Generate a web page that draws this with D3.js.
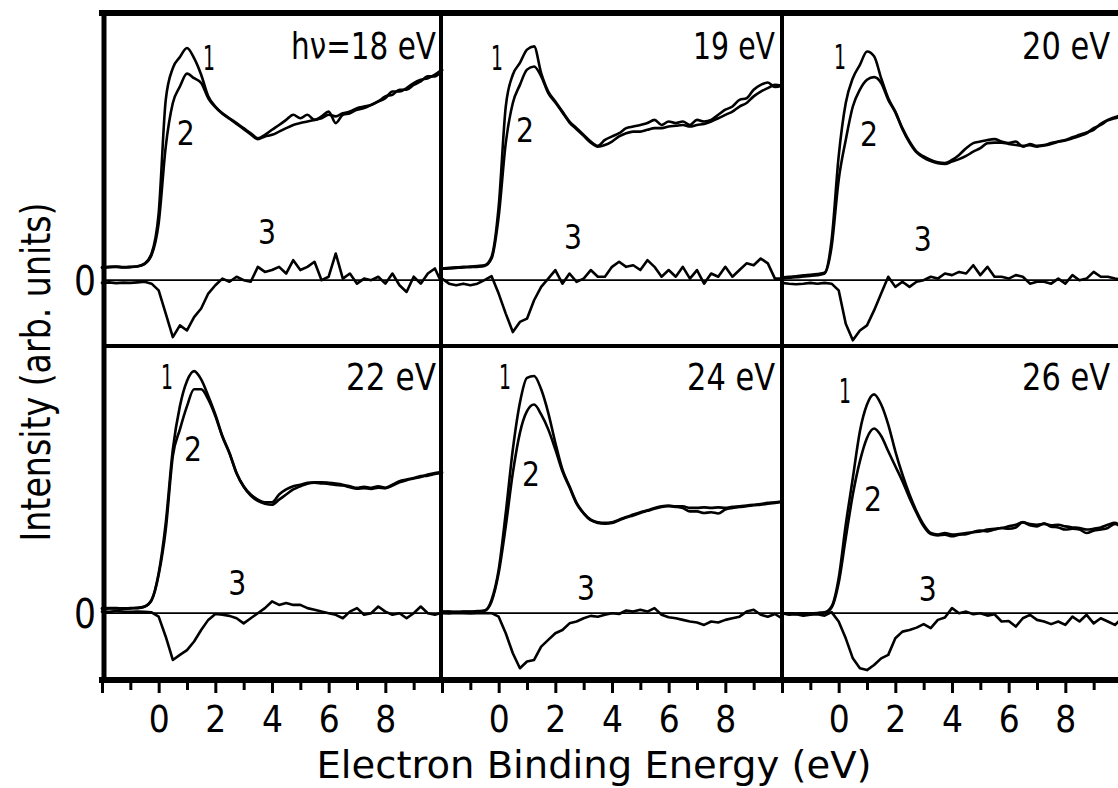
<!DOCTYPE html>
<html>
<head>
<meta charset="utf-8">
<script src="https://cdn.jsdelivr.net/npm/d3@7"></script>
<style>
  html, body { margin: 0; padding: 0; background: #fff; overflow: hidden; }
  svg { display: block; }
  text { font-family: "DejaVu Sans", "Liberation Sans", sans-serif; fill: #000; }
</style>
</head>
<body>
<svg id="chart" width="1118" height="788"></svg>
<script>
const energy = d3.range(-2, 10.001, 0.25);

const photonEnergy = [18, 19, 20, 22, 24, 26];
const panelLabels = ["h\u03bd=18 eV", "19 eV", "20 eV", "22 eV", "24 eV", "26 eV"];
const xTicks = [-2, -1, 0, 1, 2, 3, 4, 5, 6, 7, 8, 9, 10];
const xTickLabels = [0, 2, 4, 6, 8];

// spectra 1 and 2, difference 3 (arb. units, 0 = baseline)
const edc1_18 = [4.8, 5.0, 5.1, 4.9, 5.0, 5.2, 6.2, 10.0, 25.0, 67.5, 79.4, 83.5, 86.9, 83.1, 76.9, 68.8, 65.0, 62.5, 60.6, 58.8, 56.9, 55.0, 53.1, 54.4, 56.3, 58.1, 60.0, 61.9, 60.6, 61.9, 60.0, 61.3, 63.1, 58.8, 61.9, 62.5, 63.8, 64.4, 65.6, 66.9, 68.1, 70.6, 70.6, 71.9, 73.8, 75.0, 75.6, 76.9, 78.8];
const edc2_18 = [4.6, 4.9, 5.0, 4.8, 4.9, 5.1, 6.0, 9.4, 21.3, 50.0, 66.3, 72.5, 77.3, 75.6, 73.8, 68.1, 64.8, 62.3, 60.4, 58.5, 56.5, 54.6, 52.8, 53.8, 54.4, 55.6, 56.9, 58.1, 58.8, 59.4, 60.0, 60.6, 61.9, 61.3, 62.5, 63.1, 64.4, 65.0, 65.6, 66.9, 68.8, 69.4, 71.3, 71.3, 73.1, 74.4, 76.3, 76.3, 78.5];
const diff_18 = [-1.0, -0.8, -1.1, -0.9, -1.0, -0.8, -0.6, -1.3, -3.8, -12.5, -21.3, -16.9, -18.8, -13.8, -10.6, -5.0, -1.9, 0.6, -0.6, 1.3, 0.0, -0.6, 5.0, 3.1, 3.8, 5.0, 2.5, 7.5, 3.8, 5.0, 6.9, 0.0, 1.3, 10.0, 0.6, 2.5, -1.3, 0.6, 0.0, 1.3, -1.3, 2.5, -1.9, -4.4, 1.3, -1.3, 2.5, 4.4, -1.3];

const edc1_19 = [4.4, 4.6, 4.8, 5.0, 5.1, 5.3, 5.6, 8.8, 27.5, 65.0, 76.9, 81.3, 86.3, 87.5, 77.5, 70.6, 66.9, 63.1, 59.4, 56.9, 54.4, 51.9, 50.3, 52.5, 53.8, 55.0, 56.9, 57.5, 58.1, 58.8, 60.0, 58.1, 59.4, 58.8, 59.4, 58.1, 60.0, 59.4, 60.0, 61.9, 63.8, 65.0, 67.5, 68.1, 71.3, 73.1, 74.0, 72.3, 72.8];
const edc2_19 = [4.3, 4.4, 4.6, 4.8, 4.9, 5.0, 5.3, 8.1, 23.8, 51.3, 66.3, 73.1, 78.8, 80.0, 76.3, 70.0, 66.5, 62.8, 59.0, 56.5, 54.0, 51.5, 50.0, 50.6, 51.9, 53.8, 55.0, 55.6, 55.6, 56.3, 56.9, 56.9, 57.5, 57.8, 58.1, 57.5, 58.1, 58.5, 59.4, 60.6, 61.9, 63.1, 65.0, 66.3, 68.8, 70.6, 71.9, 73.1, 72.8];
const diff_19 = [0.6, -1.3, -1.9, -1.3, -1.9, -1.3, 0.0, 1.5, -5.0, -12.5, -19.4, -15.6, -14.4, -7.5, -2.5, 0.6, 3.8, -1.3, 2.5, -0.6, 0.6, 3.8, 1.3, 1.3, 5.0, 6.9, 5.0, 5.6, 3.8, 7.5, 5.0, 1.3, 3.8, 1.3, 5.0, 0.6, 3.8, -1.3, 2.5, 1.3, 5.0, 1.3, 3.8, 6.3, 5.6, 8.1, 6.3, 0.6, 0.6];

const edc1_20 = [1.0, 1.3, 1.5, 1.8, 2.0, 2.3, 2.8, 15.0, 46.3, 66.3, 75.6, 80.6, 85.6, 83.8, 75.6, 68.1, 63.1, 56.9, 51.9, 48.1, 46.3, 45.0, 44.1, 43.8, 45.0, 46.9, 49.4, 51.3, 51.9, 52.5, 52.8, 51.9, 51.3, 51.9, 50.0, 51.0, 50.3, 50.6, 51.3, 51.9, 52.5, 53.5, 54.4, 55.3, 56.3, 58.5, 60.0, 61.0, 61.9];
const edc2_20 = [0.6, 0.9, 1.1, 1.4, 1.6, 1.9, 2.5, 12.5, 37.5, 52.5, 65.0, 71.3, 75.0, 76.0, 73.8, 67.5, 62.8, 56.5, 51.5, 47.8, 45.9, 44.6, 43.8, 43.5, 44.4, 45.3, 46.5, 48.1, 49.4, 51.3, 51.5, 51.5, 51.0, 50.6, 50.3, 50.5, 50.0, 50.4, 51.0, 51.8, 52.3, 53.1, 54.0, 55.0, 56.9, 58.1, 59.8, 60.6, 61.5];
const diff_20 = [-1.0, -1.3, -1.5, -1.3, -1.0, -1.3, -1.0, -1.3, -3.8, -16.3, -22.5, -18.8, -16.9, -11.3, -5.0, 1.3, -2.5, -0.6, -2.5, -0.6, 0.0, 1.3, 0.6, 2.5, 1.9, 3.1, 2.5, 5.6, 1.9, 5.0, 1.3, 1.3, 0.6, 1.9, 1.3, -1.3, -0.6, -0.6, -1.3, 0.6, -1.3, 1.9, 0.0, 0.6, 3.1, 1.3, 1.3, 0.6, 0.3];

const edc1_22 = [1.8, 1.9, 1.9, 1.8, 1.9, 2.0, 2.5, 5.0, 15.0, 33.8, 61.3, 77.5, 86.9, 90.6, 87.5, 81.3, 74.4, 66.3, 60.0, 52.5, 47.5, 44.4, 42.5, 41.5, 41.5, 44.4, 46.3, 47.5, 48.1, 48.8, 49.0, 49.0, 48.8, 48.5, 48.1, 47.5, 46.9, 47.3, 46.9, 47.5, 46.9, 48.1, 49.4, 50.0, 50.6, 51.3, 51.5, 52.1, 52.5];
const edc2_22 = [1.6, 1.8, 1.8, 1.6, 1.8, 1.9, 2.4, 4.8, 14.4, 31.3, 58.8, 68.8, 77.5, 83.8, 83.8, 80.0, 73.8, 66.0, 59.8, 52.3, 47.3, 44.0, 42.0, 41.0, 40.6, 42.5, 44.4, 46.3, 47.5, 48.5, 48.8, 48.6, 48.4, 48.0, 47.8, 47.1, 46.6, 46.8, 46.5, 47.0, 46.8, 47.8, 49.0, 49.8, 50.4, 51.0, 51.9, 52.5, 52.8];
const diff_22 = [0.6, 0.5, 0.8, 0.6, 0.5, 0.6, 0.5, 0.3, -1.3, -8.8, -17.5, -15.6, -13.8, -10.6, -6.3, -2.5, -0.3, -0.6, -1.0, -1.9, -3.8, -1.9, 0.0, 1.9, 4.4, 3.1, 3.8, 3.1, 3.1, 1.9, 1.3, 0.6, 0.0, -0.6, -1.9, 0.6, 1.9, -0.6, 0.0, 2.5, 0.6, -0.6, 0.0, -1.9, 0.0, 2.5, 0.0, -0.6, 0.3];

const edc1_24 = [0.6, 0.6, 0.5, 0.6, 0.6, 0.8, 1.0, 5.0, 16.3, 37.5, 61.3, 78.8, 88.1, 88.8, 83.8, 75.0, 63.8, 53.8, 47.5, 41.3, 37.5, 35.0, 34.0, 33.8, 34.0, 35.0, 36.0, 36.9, 37.8, 38.5, 39.4, 40.0, 40.3, 40.0, 40.0, 39.4, 39.4, 39.6, 39.4, 39.6, 39.4, 39.8, 40.0, 40.3, 40.6, 40.9, 41.3, 41.5, 41.9];
const edc2_24 = [0.5, 0.5, 0.4, 0.5, 0.5, 0.6, 0.9, 4.4, 15.0, 32.5, 52.5, 67.5, 75.6, 78.1, 74.4, 68.8, 61.3, 53.1, 47.1, 41.0, 37.3, 34.8, 33.8, 33.5, 33.8, 34.8, 35.8, 36.6, 37.5, 38.3, 39.1, 39.8, 40.0, 39.8, 39.4, 38.1, 38.1, 37.5, 37.8, 37.3, 38.8, 39.4, 39.8, 40.0, 40.4, 40.6, 41.0, 41.3, 41.6];
const diff_24 = [0.0, -0.1, 0.1, 0.0, -0.1, 0.0, 0.1, 0.0, -1.3, -7.5, -15.0, -20.6, -18.1, -17.5, -12.5, -10.0, -7.5, -6.3, -3.8, -3.1, -1.9, -1.0, -1.3, -0.6, 0.0, -0.3, 1.0, 0.6, 1.3, 0.6, 1.9, -0.6, -1.5, -1.9, -2.5, -3.1, -3.5, -4.4, -3.1, -3.5, -2.5, -1.9, -1.3, 0.6, 1.3, -0.6, -1.3, -0.3, -1.9];

const edc1_26 = [0.0, 0.0, -0.1, 0.0, 0.0, 0.1, 0.3, 2.5, 13.1, 33.1, 50.6, 68.1, 78.1, 81.9, 78.1, 70.6, 60.6, 51.9, 44.4, 38.1, 33.1, 30.0, 29.4, 30.0, 29.4, 29.6, 30.0, 30.3, 30.6, 31.3, 31.6, 31.9, 32.5, 33.1, 34.0, 33.4, 33.1, 33.4, 32.9, 33.1, 32.5, 32.1, 31.9, 31.3, 31.6, 32.1, 33.1, 33.8, 32.5];
const edc2_26 = [-0.1, -0.1, -0.3, -0.1, -0.1, 0.0, 0.1, 2.1, 11.3, 28.1, 44.4, 56.9, 65.6, 69.1, 66.3, 60.6, 55.0, 49.4, 43.1, 37.5, 32.5, 29.6, 29.1, 29.4, 28.8, 29.4, 29.6, 30.4, 30.9, 30.6, 31.3, 31.9, 31.6, 32.1, 34.1, 32.9, 32.5, 33.6, 32.4, 32.1, 31.3, 31.6, 31.3, 30.0, 30.9, 31.3, 31.9, 33.4, 31.9];
const diff_26 = [0.0, -0.6, -0.4, -0.9, -0.6, -0.4, -0.9, 0.4, -3.1, -9.4, -16.9, -20.6, -21.3, -19.4, -16.9, -15.6, -9.4, -6.9, -6.3, -5.4, -4.1, -5.6, -2.5, -1.6, 1.9, 0.0, 0.6, -0.4, 0.0, -0.9, -0.4, -3.1, -2.9, -5.0, -1.9, -0.6, -2.5, -3.1, -4.1, -3.1, -4.4, -1.3, -3.1, -0.6, -3.8, -1.9, -3.1, -4.4, -1.9];

// where the curve numbers 1, 2, 3 sit (energy, intensity)
const marks_18 = [[1.78, 83], [0.96, 55], [3.82, 18]];
const marks_19 = [[-0.06, 83], [0.93, 56], [2.62, 16]];
const marks_20 = [[0.05, 83.5], [1.07, 54.6], [2.97, 15.3]];
const marks_22 = [[0.29, 88.3], [1.21, 61.4], [2.77, 11.2]];
const marks_24 = [[0.22, 88.3], [1.14, 52], [3.08, 9.4]];
const marks_26 = [[0.22, 83], [1.21, 42.7], [3.14, 9.0]];

const panels = [
  { c1: edc1_18, c2: edc2_18, c3: diff_18, marks: marks_18 },
  { c1: edc1_19, c2: edc2_19, c3: diff_19, marks: marks_19 },
  { c1: edc1_20, c2: edc2_20, c3: diff_20, marks: marks_20 },
  { c1: edc1_22, c2: edc2_22, c3: diff_22, marks: marks_22 },
  { c1: edc1_24, c2: edc2_24, c3: diff_24, marks: marks_24 },
  { c1: edc1_26, c2: edc2_26, c3: diff_26, marks: marks_26 }
];
panels.forEach((p, i) => { p.hv = photonEnergy[i]; p.label = panelLabels[i]; });

// layout
const W = 1118, H = 788;
const colX = [102, 442, 782], colW = 340;
const rowY = [13, 346], rowH = 334;
const frameRight = W + 5;
const labelRight = [436, 775, 1110];
const labelWidth = [145, 82, 88, 90, 88, 88];

const svg = d3.select("#chart");

function xScale(c) {
  return d3.scaleLinear().domain([-2, 10]).range([colX[c], colX[c] + colW]);
}
function yScale(r) {
  return d3.scaleLinear().domain([-25, 100]).range([rowY[r] + rowH, rowY[r]]);
}

// squeeze a text horizontally to the given width (narrow lettering of the original)
function squeeze(sel, px, py, w) {
  const n = sel.node().getComputedTextLength();
  sel.attr("x", 0).attr("y", 0)
    .attr("transform", `translate(${px},${py}) scale(${w / n},1)`);
}

const gPanels = svg.append("g");

panels.forEach((p, i) => {
  const c = i % 3, r = Math.floor(i / 3);
  const x = xScale(c), y = yScale(r);
  const g = gPanels.append("g");

  // zero line
  g.append("line")
    .attr("x1", x(-2)).attr("x2", x(10))
    .attr("y1", y(0)).attr("y2", y(0))
    .attr("stroke", "#000").attr("stroke-width", 1.7);

  // smooth spectra, jagged difference curve
  const smooth = d3.line()
    .x((d, k) => x(energy[k]))
    .y(d => y(d))
    .curve(d3.curveMonotoneX);
  const rough = d3.line()
    .x((d, k) => x(energy[k]))
    .y(d => y(d));

  [[p.c2, smooth], [p.c1, smooth], [p.c3, rough]].forEach(([s, ln]) => {
    g.append("path")
      .attr("d", ln(s))
      .attr("fill", "none")
      .attr("stroke", "#000")
      .attr("stroke-width", 2.6)
      .attr("stroke-linejoin", "round")
      .attr("stroke-linecap", "round");
  });

  // curve numbers
  g.selectAll("text.num")
    .data(p.marks)
    .join("text")
    .attr("class", "num")
    .attr("x", d => x(d[0]))
    .attr("y", d => y(d[1]))
    .attr("dy", "0.36em")
    .attr("text-anchor", "middle")
    .attr("font-size", 33)
    .attr("textLength", (d, k) => k == 0 ? 12 : 18)
    .attr("lengthAdjust", "spacingAndGlyphs")
    .text((d, k) => k + 1);

  // photon energy
  const t = g.append("text")
    .attr("text-anchor", "end")
    .attr("font-size", 38)
    .text(p.label);
  squeeze(t, labelRight[c], r == 0 ? 59 : 390, labelWidth[i]);
});

// frame
const frame = svg.append("g").attr("stroke", "#000").attr("stroke-linecap", "square");
frame.append("line").attr("x1", 102).attr("x2", frameRight).attr("y1", 13).attr("y2", 13).attr("stroke-width", 6);
frame.append("line").attr("x1", 102).attr("x2", frameRight).attr("y1", 680).attr("y2", 680).attr("stroke-width", 6);
frame.append("line").attr("x1", 104).attr("x2", 104).attr("y1", 13).attr("y2", 680).attr("stroke-width", 5);
frame.append("line").attr("x1", 102).attr("x2", frameRight).attr("y1", 346).attr("y2", 346).attr("stroke-width", 4).attr("stroke-linecap", "butt");
[colX[1] - 1, colX[2]].forEach(xx => {
  frame.append("line").attr("x1", xx).attr("x2", xx).attr("y1", 13).attr("y2", 680).attr("stroke-width", 4).attr("stroke-linecap", "butt");
});

// bottom axes
[0, 1, 2].forEach(c => {
  const x = xScale(c);
  const ax = svg.append("g")
    .attr("transform", "translate(0,680)")
    .call(d3.axisBottom(x)
      .tickValues(xTicks)
      .tickSize(13)
      .tickPadding(12)
      .tickFormat(d => xTickLabels.includes(d) ? d : ""));
  ax.select(".domain").remove();
  ax.selectAll(".tick line")
    .attr("stroke-width", 3)
    .attr("y2", d => d % 2 == 0 ? 13 : 10);
  ax.selectAll(".tick text")
    .attr("font-size", 38)
    .attr("font-family", "DejaVu Sans, sans-serif")
    .attr("textLength", d => xTickLabels.includes(d) ? 21 : null)
    .attr("lengthAdjust", "spacingAndGlyphs");
});

// zero labels on the left
[0, 1].forEach(r => {
  const y = yScale(r);
  svg.append("text")
    .attr("x", 85)
    .attr("y", y(0))
    .attr("dy", "0.36em")
    .attr("text-anchor", "middle")
    .attr("font-size", 40)
    .attr("textLength", 22)
    .attr("lengthAdjust", "spacingAndGlyphs")
    .text("0");
});

// axis titles
svg.append("text")
  .attr("transform", "translate(50,372) rotate(-90)")
  .attr("text-anchor", "middle")
  .attr("font-size", 40)
  .attr("textLength", 339)
  .attr("lengthAdjust", "spacingAndGlyphs")
  .text("Intensity (arb. units)");

svg.append("text")
  .attr("x", 594)
  .attr("y", 778)
  .attr("text-anchor", "middle")
  .attr("font-size", 37)
  .attr("textLength", 555)
  .attr("lengthAdjust", "spacingAndGlyphs")
  .text("Electron Binding Energy (eV)");
</script>
</body>
</html>
